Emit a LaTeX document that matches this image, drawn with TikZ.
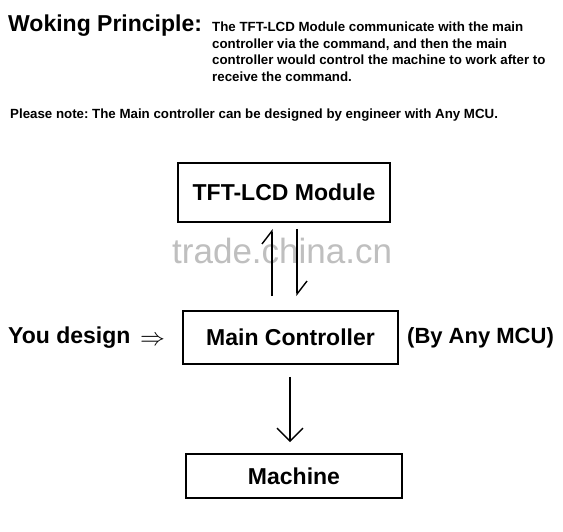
\documentclass[tikz,border=0pt]{standalone}
\usepackage{fontspec}
\setmainfont{Liberation Sans}
\usetikzlibrary{arrows.meta}
\frenchspacing
\begin{document}
\begin{tikzpicture}[x=1pt,y=-1pt,
  txt/.style={inner sep=0pt,anchor=base west},
  big/.style={font=\fontsize{23}{27}\selectfont\bfseries},
  small/.style={font=\fontsize{13.3}{16}\selectfont\bfseries},
  box/.style={draw,line width=1.8pt,inner sep=0pt,font=\fontsize{23}{27}\selectfont\bfseries},
  harp/.style={line width=1.4pt,-{Straight Barb[harpoon,length=13pt,width=20pt,line width=1.4pt]}},
  arr/.style={line width=1.4pt,-{Straight Barb[length=13pt,width=26pt,line width=1.4pt]}}]
\useasboundingbox (0,0) rectangle (563,531);
\fill[white] (0,0) rectangle (563,531);
% heading
\node[txt,big] (title) at (8,31.7) {Woking Principle:};
\node[txt,small] (p1) at (212,31.7) {The TFT-LCD Module communicate with the main};
\node[txt,small] (p2) at (212,48.2) {controller via the command, and then the main};
\node[txt,small] (p3) at (212,64.8) {controller would control the machine to work after to};
\node[txt,small] (p4) at (212,81.3) {receive the command.};
\node[txt,small] (note) at (10,118.5) {Please note: The Main controller can be designed by engineer with Any MCU.};
% watermark
\node[txt,text=black!25,font=\fontsize{35}{40}\selectfont] (wm) at (172,263) {trade.china.cn};
% boxes
\node[box,minimum width=212pt,minimum height=59pt] (tft) at (284,192.5) {TFT-LCD Module};
\node[box,minimum width=215pt,minimum height=53pt] (main) at (290.5,337.5) {Main Controller};
\node[box,minimum width=216pt,minimum height=44pt] (mach) at (294,476) {Machine};
% side texts
\node[txt,big] (you) at (8,343) {You design};
\node[txt,font=\fontsize{34}{36}\selectfont] (imp) at (140,345) {$\Rightarrow$};
\node[txt,font=\fontsize{22}{26}\selectfont\bfseries] (mcu) at (407,343) {(By Any MCU)};
% connectors
\draw[harp] ([xshift=-18.5pt,yshift=14pt]main.north) -- ([xshift=-12pt,yshift=-6pt]tft.south);
\draw[harp] ([xshift=13pt,yshift=-6pt]tft.south) -- ([xshift=6.5pt,yshift=14pt]main.north);
\draw[arr] ([xshift=-0.5pt,yshift=-12pt]main.south) -- ([xshift=-4pt,yshift=11pt]mach.north);
\end{tikzpicture}
\end{document}
